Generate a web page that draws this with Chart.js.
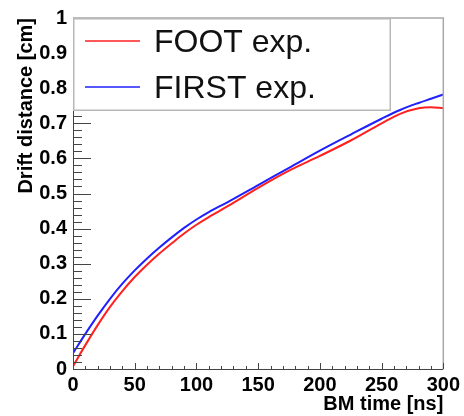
<!DOCTYPE html>
<html>
<head>
<meta charset="utf-8">
<script src="https://cdn.jsdelivr.net/npm/chart.js@4"></script>
<style>
  html, body { margin: 0; padding: 0; background: #fff; }
  #wrap { width: 464px; height: 416px; }
</style>
</head>
<body>
<div id="wrap"><canvas id="driftChart" width="464" height="416"></canvas></div>
<script>
// BM time (ns) at which the calibration curves are sampled
const bmTimes = [0, 10, 20, 30, 40, 50, 60, 70, 80, 90, 100, 110, 125, 150, 175, 200, 225, 250, 265, 280, 290, 300];
// drift distance (cm) for each experiment's calibration
const footDrift = [0.008, 0.068, 0.125, 0.177, 0.222, 0.262, 0.297, 0.329, 0.358, 0.386, 0.411, 0.433, 0.463, 0.516, 0.565, 0.607, 0.651, 0.700, 0.727, 0.743, 0.746, 0.743];
const firstDrift = [0.045, 0.100, 0.152, 0.200, 0.243, 0.281, 0.315, 0.346, 0.375, 0.402, 0.426, 0.447, 0.475, 0.524, 0.573, 0.622, 0.668, 0.713, 0.738, 0.758, 0.770, 0.782];
const seriesNames = ["FOOT exp.", "FIRST exp."];
const seriesColors = ["#ff2020", "#2020ff"];

const xTicks = [0, 50, 100, 150, 200, 250, 300];
const yTicks = [0, 0.1, 0.2, 0.3, 0.4, 0.5, 0.6, 0.7, 0.8, 0.9, 1];

const FONT = "'Liberation Sans', Arial, Helvetica, sans-serif";

function toPoints(xs, ys) {
    const pts = [];
    for (let i = 0; i < xs.length; i++) {
        pts.push({ x: xs[i], y: ys[i] });
    }
    return pts;
}

// frame with inward ROOT-style major/minor ticks
const frameTicks = {
    id: "frameTicks",
    afterDatasetsDraw(chart) {
        const ctx = chart.ctx;
        const xs = chart.scales.x;
        const ys = chart.scales.y;
        const a = chart.chartArea;
        ctx.save();

        // top and right edges of the frame
        ctx.strokeStyle = "#a8a8a8";
        ctx.lineWidth = 1.5;
        ctx.beginPath();
        ctx.moveTo(a.left, a.top);
        ctx.lineTo(a.right, a.top);
        ctx.lineTo(a.right, a.bottom);
        ctx.stroke();

        ctx.strokeStyle = "#444";
        ctx.lineWidth = 1;
        ctx.beginPath();
        ctx.moveTo(a.left + 0.5, a.top);
        ctx.lineTo(a.left + 0.5, a.bottom + 0.5);
        ctx.lineTo(a.right, a.bottom + 0.5);

        // y ticks: major every 0.1, minor every 0.02
        for (let i = 0; i <= 50; i++) {
            const py = Math.round(ys.getPixelForValue(i * 0.02)) + 0.5;
            const len = i % 5 === 0 ? 18 : 9;
            ctx.moveTo(a.left, py);
            ctx.lineTo(a.left + len, py);
        }
        // x ticks: major every 50, minor every 10
        for (let i = 0; i <= 30; i++) {
            const px = Math.round(xs.getPixelForValue(i * 10)) + 0.5;
            const len = i % 5 === 0 ? 6 : 3;
            ctx.moveTo(px, a.bottom);
            ctx.lineTo(px, a.bottom - len);
        }
        ctx.stroke();
        ctx.restore();
    }
};

// boxed legend in the upper left corner of the frame
const boxLegend = {
    id: "boxLegend",
    afterDraw(chart) {
        const ctx = chart.ctx;
        const a = chart.chartArea;
        const left = a.left, top = a.top, w = 318, h = 93;
        ctx.save();
        ctx.fillStyle = "#fff";
        ctx.fillRect(left, top, w, h);
        ctx.strokeStyle = "#b8b8b8";
        ctx.lineWidth = 1.5;
        ctx.strokeRect(left + 0.75, top + 0.75, w - 1.5, h - 1.5);

        ctx.font = "32px " + FONT;
        ctx.textBaseline = "alphabetic";
        ctx.fillStyle = "#111";
        chart.data.datasets.forEach(function (ds, i) {
            const ly = top + 23 + i * 46;
            ctx.strokeStyle = ds.borderColor;
            ctx.lineWidth = 1.5;
            ctx.beginPath();
            ctx.moveTo(left + 12, ly);
            ctx.lineTo(left + 67, ly);
            ctx.stroke();
            ctx.fillText(ds.label, left + 81, ly + 10.5);
        });
        ctx.restore();
    }
};

const ctx = document.getElementById("driftChart").getContext("2d");
const driftChart = new Chart(ctx, {
    type: "line",
    data: {
        datasets: [
            {
                label: seriesNames[0],
                data: toPoints(bmTimes, footDrift),
                borderColor: seriesColors[0],
                borderWidth: 2,
                pointRadius: 0,
                cubicInterpolationMode: "monotone",
                fill: false
            },
            {
                label: seriesNames[1],
                data: toPoints(bmTimes, firstDrift),
                borderColor: seriesColors[1],
                borderWidth: 2,
                pointRadius: 0,
                cubicInterpolationMode: "monotone",
                fill: false
            }
        ]
    },
    options: {
        responsive: false,
        animation: false,
        layout: { padding: { top: 14, right: 16, left: 0, bottom: 0 } },
        plugins: {
            legend: { display: false },
            tooltip: { enabled: false }
        },
        scales: {
            x: {
                type: "linear",
                min: 0,
                max: 300,
                afterBuildTicks(scale) {
                    scale.ticks = xTicks.map(v => ({ value: v }));
                },
                afterFit(scale) { scale.height = 47; },
                grid: { display: false, drawTicks: false },
                border: { display: false },
                ticks: {
                    padding: 4,
                    maxRotation: 0,
                    color: "#000",
                    font: { family: FONT, size: 20, weight: "bold" }
                },
                title: {
                    display: true,
                    text: "BM time [ns]",
                    align: "end",
                    color: "#000",
                    padding: { top: 0, bottom: 0 },
                    font: { family: FONT, size: 20, weight: "bold" }
                }
            },
            y: {
                type: "linear",
                min: 0,
                max: 1,
                afterBuildTicks(scale) {
                    scale.ticks = yTicks.map(v => ({ value: v }));
                },
                afterFit(scale) { scale.width = 73; },
                grid: { display: false, drawTicks: false },
                border: { display: false },
                ticks: {
                    padding: 6,
                    color: "#000",
                    font: { family: FONT, size: 20, weight: "bold" },
                    callback: v => String(Math.round(v * 10) / 10)
                },
                title: {
                    display: true,
                    text: "Drift distance [cm]",
                    align: "end",
                    color: "#000",
                    padding: { top: 14, bottom: 0 },
                    font: { family: FONT, size: 20, weight: "bold" }
                }
            }
        }
    },
    plugins: [frameTicks, boxLegend]
});
</script>
</body>
</html>
